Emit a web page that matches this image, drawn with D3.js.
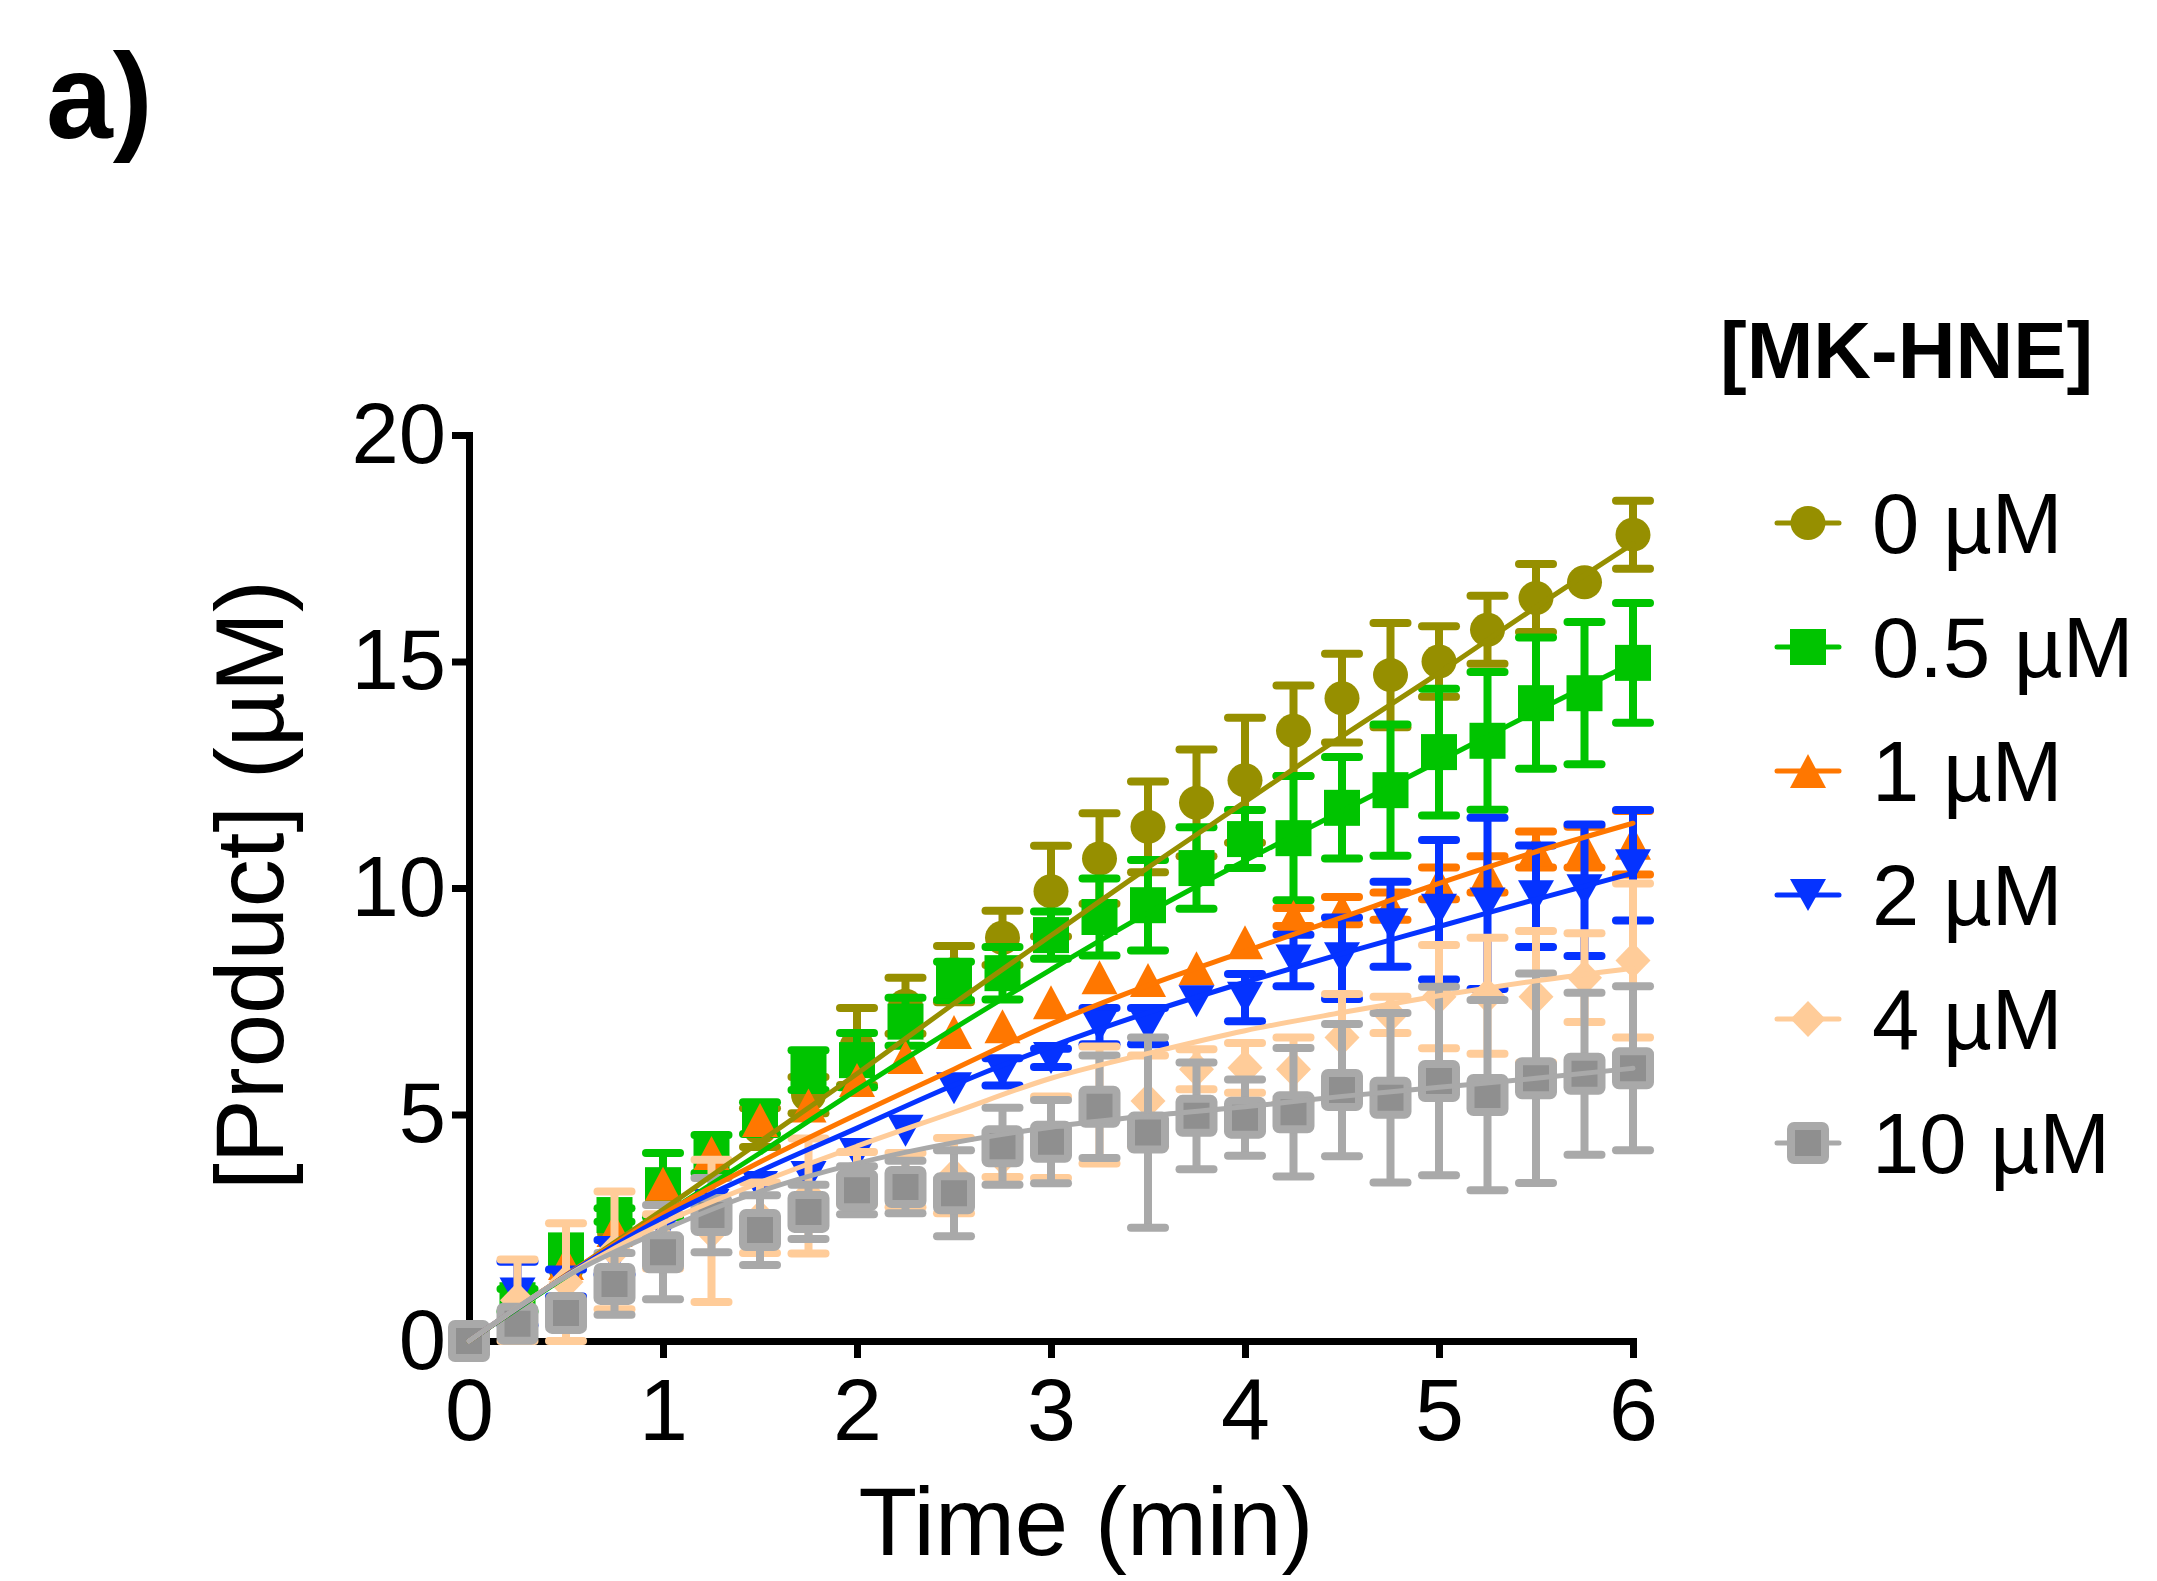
<!DOCTYPE html>
<html>
<head>
<meta charset="utf-8">
<script src="https://cdn.jsdelivr.net/npm/d3@7"></script>
<style>
    body { margin: 0; background: #ffffff; }
    svg { display: block; font-family: Arial, "Liberation Sans", sans-serif; }
</style>
</head>
<body>
<div id="chart-container"></div>
<script>
// sampling times (min)
var times = [0, 0.25, 0.5, 0.75, 1, 1.25, 1.5, 1.75, 2, 2.25, 2.5, 2.75, 3,
             3.25, 3.5, 3.75, 4, 4.25, 4.5, 4.75, 5, 5.25, 5.5, 5.75, 6];
// times where the fitted curves are read
var fitTimes = [0, 0.5, 1, 1.5, 2, 2.5, 3, 3.5, 4, 4.5, 5, 5.5, 6];

var seriesNames = ["0 \u00b5M", "0.5 \u00b5M", "1 \u00b5M", "2 \u00b5M", "4 \u00b5M", "10 \u00b5M"];

// 0 uM
var mean0 = [0, 0.8, 1.6, 2.4, 3.3, 4.0, 4.71, 5.43, 6.5, 7.4, 8.1, 8.9, 9.93,
             10.65, 11.35, 11.88, 12.38, 13.47, 14.19, 14.7, 15.0, 15.7, 16.4, 16.75, 17.8];
var sd0 = [0, 0, 0, 0, 0, 0, 0.43, 0.4, 0.85, 0.62, 0.62, 0.6, 1.0,
           1.0, 1.0, 1.18, 1.38, 1.0, 0.98, 1.15, 0.78, 0.75, 0.75, 0, 0.75];
var fit0 = [0, 1.45, 2.9, 4.4, 5.9, 7.45, 8.95, 10.45, 11.9, 13.35, 14.75, 16.2, 17.6];

// 0.5 uM
var mean05 = [0, 0.9, 2.0, 2.78, 3.44, 4.13, 4.92, 5.98, 6.2, 7.05, 7.95, 8.12, 8.96,
              9.36, 9.62, 10.44, 11.08, 11.1, 11.77, 12.16, 13.0, 13.25, 14.08, 14.3, 14.97];
var sd05 = [0, 0.25, 0, 0.15, 0.71, 0.42, 0.35, 0.44, 0.6, 0.53, 0.42, 0.58, 0.52,
            0.85, 1.0, 0.9, 0.64, 1.37, 1.12, 1.45, 1.4, 1.52, 1.45, 1.57, 1.32];
var fit05 = [0, 1.42, 2.78, 4.15, 5.55, 6.9, 8.2, 9.45, 10.6, 11.7, 12.8, 13.9, 14.97];

// 1 uM
var mean1 = [0, 0.95, 1.72, 2.45, 3.47, 4.15, 4.88, 5.2, 5.76, 6.27, 6.82, 6.95, 7.48,
             8.03, 7.97, 8.23, 8.8, 9.36, 9.5, 9.6, 10.1, 10.3, 10.85, 10.9, 11.0];
var sd1 = [0, 0, 0, 0, 0, 0, 0, 0, 0, 0, 0, 0, 0,
           0, 0, 0, 0, 0.2, 0.3, 0.3, 0.35, 0.4, 0.4, 0.45, 0.7];
var fit1 = [0, 1.45, 2.8, 3.95, 5.0, 6.0, 7.0, 7.85, 8.6, 9.35, 10.1, 10.8, 11.43];

// 2 uM
var mean2 = [0, 1.05, 1.28, 1.85, 2.5, 3.0, 3.4, 3.62, 4.13, 4.64, 5.58, 5.94, 6.25,
             6.95, 6.95, 7.5, 7.58, 8.4, 8.45, 9.2, 9.52, 9.66, 9.82, 9.95, 10.5];
var sd2 = [0, 0.7, 0.3, 0.38, 0, 0, 0, 0, 0, 0, 0, 0.3, 0.2,
           0.4, 0.4, 0, 0.52, 0.57, 0.9, 0.94, 1.54, 1.89, 1.12, 1.45, 1.22];
var fit2 = [0, 1.44, 2.72, 3.75, 4.7, 5.65, 6.5, 7.25, 7.92, 8.55, 9.15, 9.75, 10.33];

// 4 uM
var mean4 = [0, 0.9, 1.3, 2.0, 2.2, 2.43, 2.72, 3.2, 3.6, 3.55, 3.65, 4.05, 4.5,
             5.21, 5.3, 6.0, 6.03, 6.0, 6.7, 7.2, 7.6, 7.62, 7.6, 8.02, 8.4];
var sd4 = [0, 0.9, 1.3, 1.3, 0.6, 1.57, 0.78, 1.27, 0.57, 0.6, 0.83, 0.43, 0.9,
           1.29, 1.0, 0.44, 0.55, 0.7, 0.96, 0.4, 1.14, 1.28, 1.45, 0.98, 1.7];
var fit4 = [0, 1.43, 2.6, 3.5, 4.3, 5.05, 5.8, 6.35, 6.85, 7.25, 7.62, 7.95, 8.23];

// 10 uM
var mean10 = [0, 0.38, 0.62, 1.26, 1.96, 2.78, 2.45, 2.85, 3.33, 3.4, 3.26, 4.3, 4.4,
              5.17, 4.6, 4.97, 4.93, 5.05, 5.54, 5.37, 5.74, 5.43, 5.8, 5.9, 6.02];
var sd10 = [0, 0, 0, 0.68, 1.04, 0.82, 0.77, 0.6, 0.53, 0.58, 0.95, 0.85, 0.92,
            1.13, 2.1, 1.18, 0.84, 1.42, 1.46, 1.87, 2.08, 2.1, 2.31, 1.79, 1.81];
var fit10 = [0, 1.42, 2.45, 3.3, 3.92, 4.38, 4.72, 4.97, 5.17, 5.4, 5.6, 5.8, 6.02];

var xTicks = [0, 1, 2, 3, 4, 5, 6];
var yTicks = [0, 5, 10, 15, 20];

// styles per series (same order as seriesNames)
var colors = ["#968f00", "#00c400", "#ff7700", "#0533ff", "#ffcc99", "#a9a9a9"];
var shapes = ["circle", "square", "triangleUp", "triangleDown", "diamond", "graySquare"];

var series = [
    { name: seriesNames[0], mean: mean0, sd: sd0, fit: fit0 },
    { name: seriesNames[1], mean: mean05, sd: sd05, fit: fit05 },
    { name: seriesNames[2], mean: mean1, sd: sd1, fit: fit1 },
    { name: seriesNames[3], mean: mean2, sd: sd2, fit: fit2 },
    { name: seriesNames[4], mean: mean4, sd: sd4, fit: fit4 },
    { name: seriesNames[5], mean: mean10, sd: sd10, fit: fit10 }
];
series.forEach(function(s, i) {
    s.color = colors[i];
    s.shape = shapes[i];
});

var width = 2157;
var height = 1581;

var x = d3.scaleLinear().domain([0, 6]).range([469, 1633]);
var y = d3.scaleLinear().domain([0, 20]).range([1341, 435]);

var svg = d3.select("#chart-container").append("svg")
    .attr("width", width)
    .attr("height", height);

// Function to draw one marker at the current origin
function drawMarker(g, shape, color) {
    if (shape === "circle") {
        g.append("ellipse").attr("rx", 17.5).attr("ry", 17).attr("fill", color);
    } else if (shape === "square") {
        g.append("rect").attr("x", -18).attr("y", -18).attr("width", 36).attr("height", 36)
            .attr("fill", color);
    } else if (shape === "triangleUp") {
        g.append("path").attr("d", "M0,-17L18,17L-18,17Z").attr("fill", color);
    } else if (shape === "triangleDown") {
        g.append("path").attr("d", "M-18,-16L18,-16L0,16Z").attr("fill", color);
    } else if (shape === "diamond") {
        g.append("path").attr("d", "M0,-18L17.5,0L0,18L-17.5,0Z").attr("fill", color);
    } else {
        g.append("rect").attr("x", -17).attr("y", -17).attr("width", 34).attr("height", 34)
            .attr("rx", 3)
            .attr("fill", "#8f8f8f")
            .attr("stroke", color)
            .attr("stroke-width", 8)
            .attr("stroke-linejoin", "round");
    }
}

// Axes
var yAxis = svg.append("g")
    .attr("transform", "translate(469,0)")
    .call(d3.axisLeft(y).tickValues(yTicks).tickFormat(d3.format("d"))
        .tickSize(17).tickSizeOuter(0).tickPadding(6));
var xAxis = svg.append("g")
    .attr("transform", "translate(0,1341)")
    .call(d3.axisBottom(x).tickValues(xTicks).tickFormat(d3.format("d"))
        .tickSize(17).tickSizeOuter(0).tickPadding(20));

[xAxis, yAxis].forEach(function(ax) {
    ax.select(".domain").attr("stroke", "#000").attr("stroke-width", 7)
        .attr("stroke-linecap", "square");
    ax.selectAll(".tick line").attr("stroke", "#000").attr("stroke-width", 7);
    ax.selectAll(".tick text").attr("fill", "#000")
        .attr("font-family", "Arial, 'Liberation Sans', sans-serif");
});
yAxis.selectAll(".tick text").attr("font-size", 85);
xAxis.selectAll(".tick text").attr("font-size", 88);

// Error bars and markers, series by series
series.forEach(function(s) {
    var g = svg.append("g");
    times.forEach(function(t, i) {
        if (s.sd[i] > 0) {
            var cx = x(t);
            var y1 = y(s.mean[i] + s.sd[i]);
            var y2 = y(s.mean[i] - s.sd[i]);
            g.append("line").attr("x1", cx).attr("x2", cx).attr("y1", y1).attr("y2", y2)
                .attr("stroke", s.color).attr("stroke-width", 8);
            [y1, y2].forEach(function(yy) {
                g.append("line").attr("x1", cx - 17).attr("x2", cx + 17)
                    .attr("y1", yy).attr("y2", yy)
                    .attr("stroke", s.color).attr("stroke-width", 8)
                    .attr("stroke-linecap", "round");
            });
        }
    });
    times.forEach(function(t, i) {
        var m = g.append("g").attr("transform", "translate(" + x(t) + "," + y(s.mean[i]) + ")");
        drawMarker(m, s.shape, s.color);
    });
});

// Fitted curves on top
var line = d3.line()
    .x(function(d) { return x(d[0]); })
    .y(function(d) { return y(d[1]); })
    .curve(d3.curveMonotoneX);

series.forEach(function(s) {
    var pts = fitTimes.map(function(t, i) { return [t, s.fit[i]]; });
    svg.append("path")
        .attr("d", line(pts))
        .attr("fill", "none")
        .attr("stroke", s.color)
        .attr("stroke-width", 5)
        .attr("stroke-linecap", "round");
});

// Axis titles
svg.append("text")
    .attr("x", 1086).attr("y", 1555)
    .attr("text-anchor", "middle")
    .attr("font-size", 96)
    .text("Time (min)");

svg.append("text")
    .attr("transform", "translate(283,885) rotate(-90)")
    .attr("text-anchor", "middle")
    .attr("font-size", 96)
    .text("[Product] (\u00b5M)");

// Panel label
svg.append("text")
    .attr("x", 46).attr("y", 138)
    .attr("font-size", 120)
    .attr("font-weight", "bold")
    .text("a)");

// Legend
var legend = svg.append("g");
legend.append("text")
    .attr("x", 1720).attr("y", 378)
    .attr("font-size", 80)
    .attr("font-weight", "bold")
    .text("[MK-HNE]");

series.forEach(function(s, i) {
    var cy = 523 + i * 124;
    legend.append("line")
        .attr("x1", 1777).attr("x2", 1839).attr("y1", cy).attr("y2", cy)
        .attr("stroke", s.color).attr("stroke-width", 5).attr("stroke-linecap", "round");
    var m = legend.append("g").attr("transform", "translate(1808," + cy + ")");
    drawMarker(m, s.shape, s.color);
    legend.append("text")
        .attr("x", 1872).attr("y", cy + 30)
        .attr("font-size", 85)
        .text(s.name);
});
</script>
</body>
</html>
